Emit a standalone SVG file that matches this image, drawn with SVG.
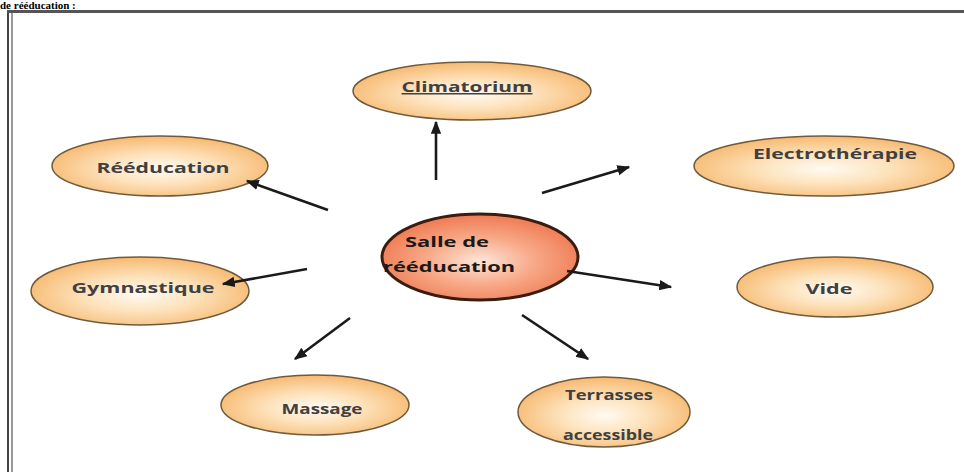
<svg xmlns="http://www.w3.org/2000/svg" width="964" height="472" viewBox="0 0 964 472">
<defs>
<radialGradient id="g" cx="50%" cy="55%" r="55%">
<stop offset="0" stop-color="#fffaf2"/>
<stop offset="0.45" stop-color="#fde3bd"/>
<stop offset="1" stop-color="#f7b970"/>
</radialGradient>
<radialGradient id="gc" cx="50%" cy="55%" r="55%">
<stop offset="0" stop-color="#fde6da"/>
<stop offset="0.5" stop-color="#f8a988"/>
<stop offset="1" stop-color="#ee7a52"/>
</radialGradient>
<marker id="ah" viewBox="0 0 10 10" refX="9" refY="5" markerWidth="5" markerHeight="5" orient="auto" markerUnits="strokeWidth">
<path d="M0,1 L10,5 L0,9 z" fill="#1a1a1a"/>
</marker>
</defs>
<style>
.n{fill:url(#g);stroke:#6e5b3e;stroke-width:1.5}
.t{font-family:"Open Sans","DejaVu Sans",sans-serif;font-weight:bold;font-size:15px;fill:#404040;text-anchor:middle}
.c{stroke:#1a1a1a;stroke-width:2.6;fill:none;marker-end:url(#ah)}
</style>
<rect width="964" height="472" fill="#ffffff"/>
<text x="0" y="9" font-family="Liberation Serif, serif" font-weight="bold" font-size="11" fill="#000">de rééducation :</text>
<g id="frame" fill="none">
<line x1="8" y1="10" x2="8" y2="472" stroke="#444" stroke-width="2"/>
<line x1="12" y1="12" x2="12" y2="472" stroke="#777" stroke-width="1.5"/>
<line x1="7" y1="11.5" x2="964" y2="11.5" stroke="#555" stroke-width="3"/>
</g>
<g id="climatorium">
<ellipse class="n" cx="472" cy="91" rx="119" ry="29"/>
<text class="t" x="467" y="92" textLength="131" lengthAdjust="spacingAndGlyphs" text-decoration="underline">Climatorium</text>
</g>
<g id="reeducation">
<ellipse class="n" cx="160" cy="166" rx="108" ry="30"/>
<text class="t" x="163" y="173" textLength="133" lengthAdjust="spacingAndGlyphs">Rééducation</text>
</g>
<g id="gymnastique">
<ellipse class="n" cx="140" cy="291" rx="109" ry="34"/>
<text class="t" x="143" y="293" textLength="143" lengthAdjust="spacingAndGlyphs">Gymnastique</text>
</g>
<g id="electrotherapie">
<ellipse class="n" cx="824" cy="166" rx="130" ry="30"/>
<text class="t" x="835" y="159" textLength="164" lengthAdjust="spacingAndGlyphs">Electrothérapie</text>
</g>
<g id="vide">
<ellipse class="n" cx="835" cy="287" rx="98" ry="30"/>
<text class="t" x="829" y="294" textLength="47" lengthAdjust="spacingAndGlyphs">Vide</text>
</g>
<g id="massage">
<ellipse class="n" cx="315" cy="405" rx="94" ry="30"/>
<text class="t" x="322" y="414" textLength="81" lengthAdjust="spacingAndGlyphs">Massage</text>
</g>
<g id="terrasses">
<ellipse class="n" cx="604" cy="412" rx="86" ry="35"/>
<text class="t" x="609" y="400" textLength="88" lengthAdjust="spacingAndGlyphs">Terrasses</text>
<text class="t" x="608" y="440" textLength="90" lengthAdjust="spacingAndGlyphs">accessible</text>
</g>
<g id="salle">
<ellipse cx="480" cy="257" rx="98" ry="43" fill="url(#gc)" stroke="#3a1c12" stroke-width="3"/>
<text class="t" x="447" y="247" textLength="84" lengthAdjust="spacingAndGlyphs" style="fill:#1a1a1a">Salle de</text>
<text class="t" x="449" y="272" textLength="132" lengthAdjust="spacingAndGlyphs" style="fill:#1a1a1a">rééducation</text>
</g>
<g id="connectors">
<line class="c" x1="436" y1="180" x2="436" y2="122"/>
<line class="c" x1="328" y1="210" x2="247" y2="181"/>
<line class="c" x1="307" y1="269" x2="223" y2="284"/>
<line class="c" x1="542" y1="193" x2="629" y2="167"/>
<line class="c" x1="567" y1="271" x2="671" y2="287"/>
<line class="c" x1="350" y1="318" x2="295" y2="359"/>
<line class="c" x1="522" y1="315" x2="588" y2="359"/>
</g>
</svg>
